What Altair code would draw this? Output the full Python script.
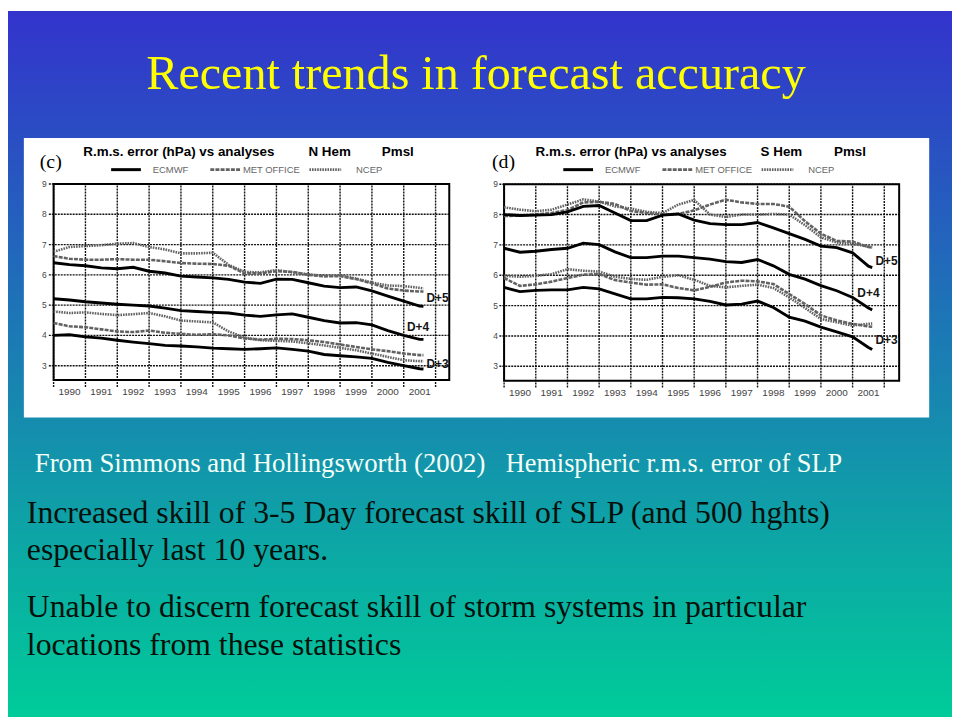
import altair as alt
import pandas as pd

# ---------------- data ----------------
T = [1990.0, 1990.5, 1991.0, 1991.5, 1992.0, 1992.5, 1993.0, 1993.5, 1994.0, 1994.5,
     1995.0, 1995.5, 1996.0, 1996.5, 1997.0, 1997.5, 1998.0, 1998.5, 1999.0, 1999.5,
     2000.0, 2000.5, 2001.0, 2001.5, 2001.62]

# Panel (c): N Hem
C_ECMWF_D5 = [6.40, 6.34, 6.30, 6.23, 6.20, 6.25, 6.12, 6.06, 5.96, 5.93, 5.90, 5.85, 5.76,
              5.72, 5.86, 5.85, 5.74, 5.63, 5.58, 5.60, 5.47, 5.30, 5.13, 4.97, 4.96]
C_ECMWF_D4 = [5.21, 5.17, 5.11, 5.07, 5.03, 5.00, 4.97, 4.90, 4.82, 4.79, 4.76, 4.74, 4.67,
              4.63, 4.68, 4.71, 4.60, 4.49, 4.41, 4.42, 4.35, 4.16, 4.00, 3.87, 3.87]
C_ECMWF_D3 = [4.00, 4.02, 3.95, 3.91, 3.84, 3.78, 3.73, 3.67, 3.65, 3.62, 3.58, 3.56, 3.54,
              3.56, 3.59, 3.54, 3.48, 3.37, 3.33, 3.29, 3.24, 3.11, 3.00, 2.90, 2.89]
C_NCEP_D4 = [6.76, 6.92, 6.95, 6.98, 7.03, 7.05, 6.92, 6.84, 6.71, 6.71, 6.73, 6.33, 6.10,
             6.08, 6.16, 6.08, 6.02, 5.97, 5.98, 5.88, 5.75, 5.65, 5.63, 5.57, 5.55]
C_MET_D4 = [6.62, 6.53, 6.50, 6.50, 6.52, 6.50, 6.50, 6.45, 6.39, 6.37, 6.36, 6.30, 6.05,
            6.05, 6.12, 6.10, 6.00, 5.95, 5.96, 5.86, 5.72, 5.55, 5.48, 5.45, 5.45]
C_NCEP_D3 = [4.79, 4.74, 4.76, 4.71, 4.67, 4.70, 4.74, 4.63, 4.49, 4.46, 4.43, 4.13, 3.93,
             3.84, 3.82, 3.80, 3.74, 3.67, 3.59, 3.51, 3.40, 3.29, 3.18, 3.15, 3.15]
C_MET_D3 = [4.41, 4.30, 4.27, 4.20, 4.13, 4.11, 4.16, 4.09, 4.05, 4.02, 4.04, 4.00, 3.90,
            3.86, 3.89, 3.88, 3.84, 3.78, 3.70, 3.62, 3.54, 3.48, 3.40, 3.35, 3.35]

# Panel (d): S Hem
D_ECMWF_D5 = [8.00, 7.97, 7.98, 8.00, 8.09, 8.27, 8.30, 8.05, 7.80, 7.80, 7.98, 8.02, 7.82,
              7.70, 7.67, 7.67, 7.74, 7.56, 7.37, 7.18, 6.96, 6.91, 6.74, 6.30, 6.25]
D_ECMWF_D4 = [6.89, 6.76, 6.79, 6.85, 6.89, 7.06, 7.01, 6.77, 6.58, 6.58, 6.63, 6.63, 6.58,
              6.53, 6.45, 6.42, 6.52, 6.31, 6.03, 5.87, 5.66, 5.49, 5.27, 4.92, 4.86]
D_ECMWF_D3 = [5.60, 5.46, 5.50, 5.52, 5.52, 5.60, 5.55, 5.39, 5.22, 5.22, 5.27, 5.26, 5.22,
              5.14, 5.02, 5.05, 5.15, 4.94, 4.62, 4.49, 4.29, 4.13, 3.97, 3.62, 3.55]
D_NCEP_D4 = [8.24, 8.16, 8.11, 8.16, 8.33, 8.50, 8.43, 8.27, 8.20, 8.09, 8.05, 8.33, 8.48,
             8.00, 7.92, 8.00, 8.00, 8.02, 8.00, 7.65, 7.25, 7.08, 7.04, 6.94, 6.92]
D_MET_D4 = [7.95, 7.97, 8.00, 8.05, 8.15, 8.40, 8.42, 8.35, 8.12, 8.05, 8.00, 8.02, 8.14,
            8.33, 8.49, 8.40, 8.35, 8.35, 8.26, 7.78, 7.37, 7.13, 7.11, 6.93, 6.91]
D_NCEP_D3 = [5.98, 5.95, 5.98, 6.04, 6.20, 6.15, 6.12, 5.95, 5.88, 5.85, 5.95, 6.00, 5.85,
             5.65, 5.60, 5.65, 5.69, 5.58, 5.27, 4.92, 4.56, 4.45, 4.34, 4.40, 4.41]
D_MET_D3 = [5.91, 5.65, 5.70, 5.79, 5.91, 6.02, 6.04, 5.84, 5.76, 5.69, 5.70, 5.58, 5.50,
            5.62, 5.76, 5.82, 5.80, 5.71, 5.38, 5.05, 4.68, 4.51, 4.40, 4.31, 4.30]

YEAR_LABELS = [str(y) for y in range(1990, 2002)]
Y_TICKS = [3, 4, 5, 6, 7, 8, 9]
DAY_LABELS = ["D+5", "D+4", "D+3"]
C_DAY_POS = [(2002.06, 5.25), (2001.45, 4.27), (2002.06, 3.06)]
D_DAY_POS = [(2002.07, 6.47), (2001.50, 5.41), (2002.07, 3.86)]

TITLE = "Recent trends in forecast accuracy"
SOURCE = "From Simmons and Hollingsworth (2002)"
SOURCE2 = "Hemispheric r.m.s. error of SLP"
BODY = ["Increased skill of 3-5 Day forecast skill of SLP (and 500 hghts)",
        "especially last 10 years.",
        "Unable to discern forecast skill of storm systems in particular",
        "locations from these statistics"]

# ---------------- layout ----------------
W, H = 952, 712
SERIF = "Liberation Serif"
SANS = "Liberation Sans"
GRAY = "#626262"
ONE = alt.Data(values=[{}])


def text_at(s, x, y, size, color="black", font=SERIF, weight="normal", align="left",
            baseline="alphabetic"):
    return alt.Chart(alt.Data(values=[{"s": s}])).mark_text(
        font=font, fontSize=size, fontWeight=weight, color=color, align=align,
        baseline=baseline
    ).encode(x=alt.value(x), y=alt.value(y), text="s:N")


def rule_at(x1, x2, y, color, width, dash=None):
    kw = dict(color=color, strokeWidth=width)
    if dash:
        kw["strokeDash"] = dash
    return alt.Chart(ONE).mark_rule(**kw).encode(
        x=alt.value(x1), x2=alt.value(x2), y=alt.value(y))


def panel(tag, hem, series, xr, yr, fr, fb, daypos, ylab_x, xlab_y, ox):
    xsc = alt.Scale(domain=[1990, 2002], range=xr, zero=False, nice=False)
    ysc = alt.Scale(domain=[3, 9], range=yr, zero=False, nice=False)
    X = lambda f: alt.X(f, scale=xsc, axis=None)
    Y = lambda f: alt.Y(f, scale=ysc, axis=None)

    hgrid = alt.Chart(pd.DataFrame({"v": Y_TICKS, "x0": 1989.85, "x1": fr})).mark_rule(
        color="#111111", strokeWidth=1.4, strokeDash=[2, 1]
    ).encode(x=X("x0:Q"), x2="x1:Q", y=Y("v:Q"))
    vgrid = alt.Chart(pd.DataFrame({"t": list(range(1990, 2003)), "y0": 2.3, "y1": 9})).mark_rule(
        color="#111111", strokeWidth=1.4, strokeDash=[2, 1]
    ).encode(x=X("t:Q"), y=Y("y0:Q"), y2="y1:Q")
    frame = alt.Chart(pd.DataFrame({"x0": [1990], "x1": [fr], "y0": [fb], "y1": [9]})).mark_rect(
        fillOpacity=0, stroke="black", strokeWidth=2
    ).encode(x=X("x0:Q"), x2="x1:Q", y=Y("y0:Q"), y2="y1:Q")

    rows = []
    for (centre, day), vals in series.items():
        for t, v in zip(T, vals):
            rows.append({"t": t, "v": v, "centre": centre, "day": day})
    df = pd.DataFrame(rows)

    def lines(centre, color, width, dash=None):
        kw = dict(color=color, strokeWidth=width)
        if dash:
            kw["strokeDash"] = dash
        return alt.Chart(df[df.centre == centre]).mark_line(**kw).encode(
            x=X("t:Q"), y=Y("v:Q"), detail="day:N")

    met = lines("MET OFFICE", GRAY, 2.6, [4, 1.2])
    ncep = lines("NCEP", GRAY, 2.6, [1.6, 1.0])
    ecm = lines("ECMWF", "black", 2.9)

    daylab = alt.Chart(pd.DataFrame({"t": [p[0] for p in daypos], "v": [p[1] for p in daypos],
                                     "lab": DAY_LABELS})).mark_text(
        font=SANS, fontWeight="bold", fontSize=12, color="#151515", align="center",
        baseline="middle"
    ).encode(x=X("t:Q"), y=Y("v:Q"), text="lab:N")

    ylab = alt.Chart(pd.DataFrame({"v": Y_TICKS, "lab": [str(v) for v in Y_TICKS]})).mark_text(
        font=SANS, fontSize=8.5, color="#444", align="right", baseline="middle"
    ).encode(x=alt.value(ylab_x), y=Y("v:Q"), text="lab:N")
    xlab = alt.Chart(pd.DataFrame({"t": [int(s) + 0.5 for s in YEAR_LABELS],
                                   "lab": YEAR_LABELS})).mark_text(
        font=SANS, fontSize=10, color="#444", align="center", baseline="middle"
    ).encode(x=X("t:Q"), y=alt.value(xlab_y), text="lab:N")

    deco = [
        text_at(tag, ox + 16, 158, 20, font=SERIF),
        text_at("R.m.s. error (hPa) vs analyses", ox + 60, 146.5, 13.5, font=SANS, weight="bold"),
        text_at(hem, ox + 287, 146.5, 13.5, font=SANS, weight="bold"),
        text_at("Pmsl", ox + 361, 146.5, 13.5, font=SANS, weight="bold"),
        rule_at(ox + 88, ox + 118, 160, "black", 3),
        text_at("ECMWF", ox + 130, 163.5, 9.5, color="#666", font=SANS),
        rule_at(ox + 188, ox + 219, 160, GRAY, 2.6, [4, 1.2]),
        text_at("MET OFFICE", ox + 221, 163.5, 9.5, color="#666", font=SANS),
        rule_at(ox + 288, ox + 320, 160, GRAY, 2.6, [1.6, 1.0]),
        text_at("NCEP", ox + 335, 163.5, 9.5, color="#666", font=SANS),
    ]
    return alt.layer(hgrid, vgrid, frame, met, ncep, ecm, daylab, ylab, xlab, *deco)


c_series = {("ECMWF", "D+5"): C_ECMWF_D5, ("ECMWF", "D+4"): C_ECMWF_D4,
            ("ECMWF", "D+3"): C_ECMWF_D3, ("NCEP", "D+4"): C_NCEP_D4,
            ("MET OFFICE", "D+4"): C_MET_D4, ("NCEP", "D+3"): C_NCEP_D3,
            ("MET OFFICE", "D+3"): C_MET_D3}
d_series = {("ECMWF", "D+5"): D_ECMWF_D5, ("ECMWF", "D+4"): D_ECMWF_D4,
            ("ECMWF", "D+3"): D_ECMWF_D3, ("NCEP", "D+4"): D_NCEP_D4,
            ("MET OFFICE", "D+4"): D_MET_D4, ("NCEP", "D+3"): D_NCEP_D3,
            ("MET OFFICE", "D+3"): D_MET_D3}

panel_c = panel("(c)", "N Hem", c_series, [46, 431.2], [357.7, 174.5], 2002.43, 2.53,
                C_DAY_POS, 39, 384, 16)
panel_d = panel("(d)", "S Hem", d_series, [500.3, 883.7], [358.3, 174.7], 2002.47, 2.52,
                D_DAY_POS, 494, 385, 472)

bg = alt.Chart(ONE).mark_rect(
    color=alt.Gradient(gradient="linear",
                       stops=[alt.GradientStop(color="#3333CC", offset=0),
                              alt.GradientStop(color="#00CC99", offset=1)],
                       x1=0, x2=0, y1=0, y2=1)
).encode(x=alt.value(0), x2=alt.value(W), y=alt.value(0), y2=alt.value(H))

box = alt.Chart(ONE).mark_rect(color="white").encode(
    x=alt.value(16), x2=alt.value(929), y=alt.value(128), y2=alt.value(410))

texts = [
    text_at(TITLE, 472, 79, 48.5, color="#FFFF00", align="center"),
    text_at(SOURCE, 27, 465, 27, color="#F4FFF6"),
    text_at(SOURCE2, 502, 465, 26.5, color="#F4FFF6"),
    text_at(BODY[0], 19, 516, 32, color="#06100a"),
    text_at(BODY[1], 19, 554, 32, color="#06100a"),
    text_at(BODY[2], 19, 611, 32, color="#06100a"),
    text_at(BODY[3], 19, 649, 32, color="#06100a"),
]

chart = alt.layer(bg, box, panel_c, panel_d, *texts).resolve_scale(
    x="independent", y="independent"
).properties(
    width=W, height=H, padding=0, autosize=alt.AutoSizeParams(type="none")
).configure_view(stroke=None)

chart.save("out.html", embed_options={"renderer": "svg", "actions": False})
